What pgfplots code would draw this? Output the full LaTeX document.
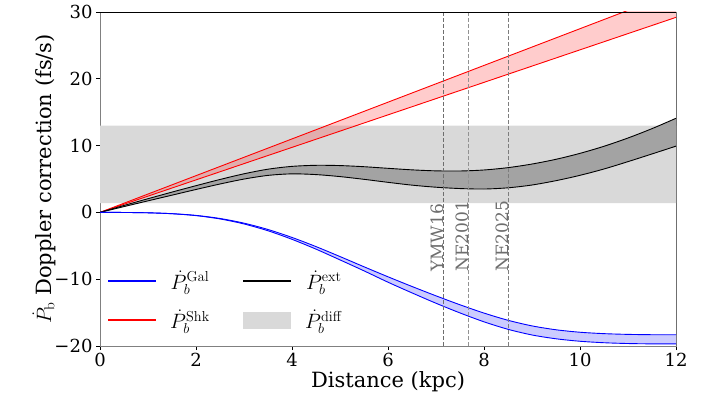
\documentclass[border=0pt]{standalone}
\usepackage[no-math]{fontspec}
\setmainfont{DejaVu Serif}
\usepackage{pgfplots}
\pgfplotsset{compat=1.18}
\definecolor{bandgray}{RGB}{217,217,217}
\definecolor{vlinegray}{RGB}{110,110,110}
\definecolor{redfill}{RGB}{255,204,204}
\definecolor{redonband}{RGB}{225,174,174}
\definecolor{extfill}{RGB}{163,163,163}
\definecolor{bluefill}{RGB}{204,204,255}
\definecolor{pltred}{RGB}{255,0,0}
\definecolor{pltblue}{RGB}{0,0,255}

\begin{document}
\begin{tikzpicture}
\begin{axis}[name=ax,
  scale only axis, width=576pt, height=334pt,
  xmin=0, xmax=12, ymin=-20, ymax=30,
  xtick={0,2,4,6,8,10,12},
  ytick={-20,-10,0,10,20,30},
  yticklabels={−20,−10,0,10,20,30},
  /pgf/number format/assume math mode=true,
  tick align=outside, tick pos=left, major tick length=4pt,
  axis line style={gray}, tick style={black, line width=0.6pt},
  tick label style={font=\fontsize{18}{20}\selectfont},
  label style={font=\fontsize{21}{25}\selectfont},
  xlabel={Distance (kpc)},
  ylabel={$\dot{P}_\mathrm{b}$ Doppler correction (fs/s)},
  xlabel style={yshift=2pt},
  ylabel style={yshift=-8pt},
  legend style={draw=none, fill=none, at={(0.008,0.035)}, anchor=south west,
    font=\fontsize{22}{26}\selectfont, row sep=15pt,
    /tikz/every odd column/.append style={column sep=13pt},
    /tikz/every even column/.append style={column sep=31pt}},
  legend columns=2,
]
% diff band
\addplot[draw=none, fill=bandgray, forget plot] coordinates {(0,1.4) (12,1.4) (12,13) (0,13) (0,1.4)};

% Shk band
\addplot[draw=none, fill=redfill, forget plot] coordinates {(0,0) (12,33) (12,29.2) (0,0)};
\addplot[draw=none, fill=redonband, forget plot] coordinates {(0.509,1.4) (0.575,1.4) (5.343,13) (4.727,13) (0.509,1.4)};
\addplot[color=pltred, line width=0.9pt, forget plot] coordinates {(0,0) (12,33)};
\addplot[color=pltred, line width=0.9pt, forget plot] coordinates {(0,0) (12,29.2)};

% ext band
\addplot[draw=none, fill=extfill, forget plot] coordinates {
(0,0) (0.5,1.04) (1,2.05) (1.5,3.04) (2,4.0) (2.5,4.93) (3,5.78) (3.5,6.47) (4,6.89) (4.5,7.05) (5,7.01) (5.5,6.84) (6,6.6) (6.5,6.37) (7,6.22) (7.5,6.2) (8,6.35) (8.5,6.7) (9,7.24) (9.5,7.95) (10,8.84) (10.5,9.9) (11,11.14) (11.5,12.54) (12,14.09)
(12,9.92) (11.5,8.75) (11,7.6) (10.5,6.5) (10,5.55) (9.5,4.75) (9,4.1) (8.5,3.68) (8,3.5) (7.5,3.57) (7,3.77) (6.5,4.08) (6,4.5) (5.5,4.95) (5,5.36) (4.5,5.66) (4,5.77) (3.5,5.54) (3,4.99) (2.5,4.25) (2,3.43) (1.5,2.58) (1,1.73) (0.5,0.87) (0,0)};
\addplot[color=black, line width=0.9pt, smooth, forget plot] coordinates {
(0,0) (0.5,1.04) (1,2.05) (1.5,3.04) (2,4.0) (2.5,4.93) (3,5.78) (3.5,6.47) (4,6.89) (4.5,7.05) (5,7.01) (5.5,6.84) (6,6.6) (6.5,6.37) (7,6.22) (7.5,6.2) (8,6.35) (8.5,6.7) (9,7.24) (9.5,7.95) (10,8.84) (10.5,9.9) (11,11.14) (11.5,12.54) (12,14.09)};
\addplot[color=black, line width=0.9pt, smooth, forget plot] coordinates {
(0,0) (0.5,0.87) (1,1.73) (1.5,2.58) (2,3.43) (2.5,4.25) (3,4.99) (3.5,5.54) (4,5.77) (4.5,5.66) (5,5.36) (5.5,4.95) (6,4.5) (6.5,4.08) (7,3.77) (7.5,3.57) (8,3.5) (8.5,3.68) (9,4.1) (9.5,4.75) (10,5.55) (10.5,6.5) (11,7.6) (11.5,8.75) (12,9.92)};

% Gal band
\addplot[draw=none, fill=bluefill, forget plot] coordinates {
(0,0) (0.5,-0.01) (1,-0.06) (1.5,-0.19) (2,-0.45) (2.5,-0.91) (3,-1.61) (3.5,-2.56) (4,-3.75) (4.5,-5.12) (5,-6.61) (5.5,-8.14) (6,-9.64) (6.5,-11.09) (7,-12.49) (7.5,-13.83) (8,-15.07) (8.5,-16.15) (9,-16.99) (9.5,-17.57) (10,-17.94) (10.5,-18.15) (11,-18.26) (11.5,-18.31) (12,-18.32)
(12,-19.69) (11.5,-19.68) (11,-19.63) (10.5,-19.51) (10,-19.29) (9.5,-18.92) (9,-18.35) (8.5,-17.5) (8,-16.38) (7.5,-15.05) (7,-13.6) (6.5,-12.05) (6,-10.45) (5.5,-8.75) (5,-7.11) (4.5,-5.5) (4,-4.03) (3.5,-2.75) (3,-1.73) (2.5,-0.98) (2,-0.48) (1.5,-0.2) (1,-0.06) (0.5,-0.01) (0,0)};
\addplot[color=pltblue, line width=0.9pt, smooth, forget plot] coordinates {
(0,0) (0.5,-0.01) (1,-0.06) (1.5,-0.19) (2,-0.45) (2.5,-0.91) (3,-1.61) (3.5,-2.56) (4,-3.75) (4.5,-5.12) (5,-6.61) (5.5,-8.14) (6,-9.64) (6.5,-11.09) (7,-12.49) (7.5,-13.83) (8,-15.07) (8.5,-16.15) (9,-16.99) (9.5,-17.57) (10,-17.94) (10.5,-18.15) (11,-18.26) (11.5,-18.31) (12,-18.32)};
\addplot[color=pltblue, line width=0.9pt, smooth, forget plot] coordinates {
(0,0) (0.5,-0.01) (1,-0.06) (1.5,-0.2) (2,-0.48) (2.5,-0.98) (3,-1.73) (3.5,-2.75) (4,-4.03) (4.5,-5.5) (5,-7.11) (5.5,-8.75) (6,-10.45) (6.5,-12.05) (7,-13.6) (7.5,-15.05) (8,-16.38) (8.5,-17.5) (9,-18.35) (9.5,-18.92) (10,-19.29) (10.5,-19.51) (11,-19.63) (11.5,-19.68) (12,-19.69)};

% distance markers
\addplot[color=vlinegray, line width=0.8pt, dash pattern=on 4pt off 2pt, forget plot] coordinates {(7.15,-20) (7.15,30)};
\addplot[color=vlinegray!75, line width=0.8pt, dash pattern=on 4pt off 2pt, forget plot] coordinates {(7.67,-20) (7.67,30)};
\addplot[color=vlinegray!90, line width=0.8pt, dash pattern=on 4pt off 2pt, forget plot] coordinates {(8.51,-20) (8.51,30)};
\node[rotate=90, anchor=base west, inner sep=0pt, text=vlinegray, font=\fontsize{17}{20}\selectfont] at (axis cs:7.15,-8.9) {YMW16};
\node[rotate=90, anchor=base west, inner sep=0pt, text=vlinegray, font=\fontsize{17}{20}\selectfont] at (axis cs:7.67,-8.9) {NE2001};
\node[rotate=90, anchor=base west, inner sep=0pt, text=vlinegray, font=\fontsize{17}{20}\selectfont] at (axis cs:8.51,-8.9) {NE2025};

% legend
\addlegendimage{legend image code/.code={\fill[color=pltblue] (0pt,-0.45pt) rectangle (47pt,0.45pt);}}
\addlegendentry{$\dot{P}_b^{\mathrm{Gal}}$}
\addlegendimage{legend image code/.code={\fill[color=black] (0pt,-0.45pt) rectangle (47pt,0.45pt);}}
\addlegendentry{$\dot{P}_b^{\mathrm{ext}}$}
\addlegendimage{legend image code/.code={\fill[color=pltred] (0pt,-0.45pt) rectangle (47pt,0.45pt);}}
\addlegendentry{$\dot{P}_b^{\mathrm{Shk}}$}
\addlegendimage{legend image code/.code={\fill[color=bandgray] (0pt,-8pt) rectangle (47pt,8pt);}}
\addlegendentry{$\dot{P}_b^{\mathrm{diff}}$}

% top and right spines in black
\draw[black, line width=0.8pt] (rel axis cs:0,1) -- (rel axis cs:1,1) -- (rel axis cs:1,0);
\end{axis}
\path (ax.south west) ++(-100pt,-61pt) coordinate (bbA);
\path (ax.north east) ++(45pt,12pt) coordinate (bbB);
\path (bbA) rectangle (bbB);
\end{tikzpicture}
\end{document}
